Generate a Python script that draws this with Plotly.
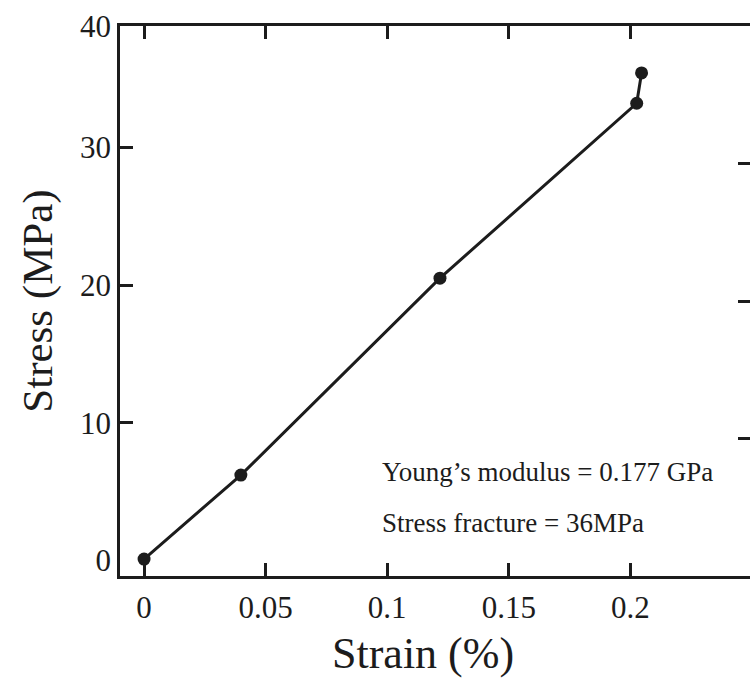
import plotly.graph_objects as go

strain = [0.0, 0.0398, 0.1217, 0.2026, 0.2046]
stress = [0.1, 6.2, 20.5, 33.2, 35.4]

x_tickvals = [0, 0.05, 0.1, 0.15, 0.2]
x_ticktext = ["0", "0.05", "0.1", "0.15", "0.2"]
y_label_vals = [0, 10, 20, 30, 38.81]
y_label_text = ["0", "10", "20", "30", "40"]
y_left_tickvals = [10, 20, 30]
y_right_tickvals = [0, 10, 20, 30, 40]
notes = ["Young\u2019s modulus = 0.177 GPa", "Stress fracture = 36MPa"]
note_y = [6.42, 2.72]
x_title = "Strain (%)"
y_title = "Stress (MPa)"

INK = "#1c1c1c"
FONT = "Liberation Serif"

fig = go.Figure()
fig.add_trace(go.Scatter(
    x=strain, y=stress, mode="lines+markers",
    line=dict(color=INK, width=3),
    marker=dict(color=INK, size=13),
    showlegend=False, hoverinfo="skip",
))
# invisible anchors for the extra axes
fig.add_trace(go.Scatter(x=[None], y=[None], yaxis="y2", showlegend=False, hoverinfo="skip"))
fig.add_trace(go.Scatter(x=[None], y=[None], yaxis="y3", showlegend=False, hoverinfo="skip"))

for t, yv in zip(notes, note_y):
    fig.add_annotation(x=0.0972, y=yv, xref="x", yref="y", text=t, showarrow=False,
                       xanchor="left", yanchor="middle",
                       font=dict(family=FONT, size=27, color=INK))

# x-axis title below the tick labels
fig.add_annotation(x=0.481, y=-0.14, xref="paper", yref="paper", text=x_title,
                   showarrow=False, xanchor="center", yanchor="middle",
                   font=dict(family=FONT, size=44, color=INK))

fig.update_layout(
    width=750, height=679,
    margin=dict(l=120, r=0, t=26, b=103),
    paper_bgcolor="white", plot_bgcolor="white",
    font=dict(family=FONT, color=INK),
    xaxis=dict(
        range=[-0.0099, 0.2492], tickvals=x_tickvals, ticktext=x_ticktext,
        ticks="inside", ticklen=13, tickwidth=2.5, tickcolor=INK,
        showline=True, linewidth=2.5, linecolor=INK, mirror="ticks",
        showgrid=False, zeroline=False,
        tickfont=dict(family=FONT, size=31, color=INK),
        ticklabelstandoff=2,
    ),
    yaxis=dict(
        range=[-1.13, 38.81], tickvals=y_label_vals, ticktext=y_label_text,
        ticks="", showline=True, linewidth=2.5, linecolor=INK,
        showgrid=False, zeroline=False,
        tickfont=dict(family=FONT, size=31, color=INK),
        ticklabelstandoff=0,
        title=dict(text=y_title, font=dict(family=FONT, size=43, color=INK), standoff=14),
    ),
    yaxis3=dict(
        overlaying="y", side="left", anchor="x",
        range=[-1.13, 38.81], tickvals=y_left_tickvals,
        ticks="inside", ticklen=13, tickwidth=2.5, tickcolor=INK,
        showticklabels=False, showline=False, showgrid=False, zeroline=False,
    ),
    yaxis2=dict(
        overlaying="y", side="right", anchor="x",
        range=[0, 40], tickvals=y_right_tickvals,
        ticks="inside", ticklen=12, tickwidth=2.5, tickcolor=INK,
        showticklabels=False, showline=True, linewidth=2.5, linecolor=INK,
        showgrid=False, zeroline=False,
    ),
)

fig.write_html("out.html")
